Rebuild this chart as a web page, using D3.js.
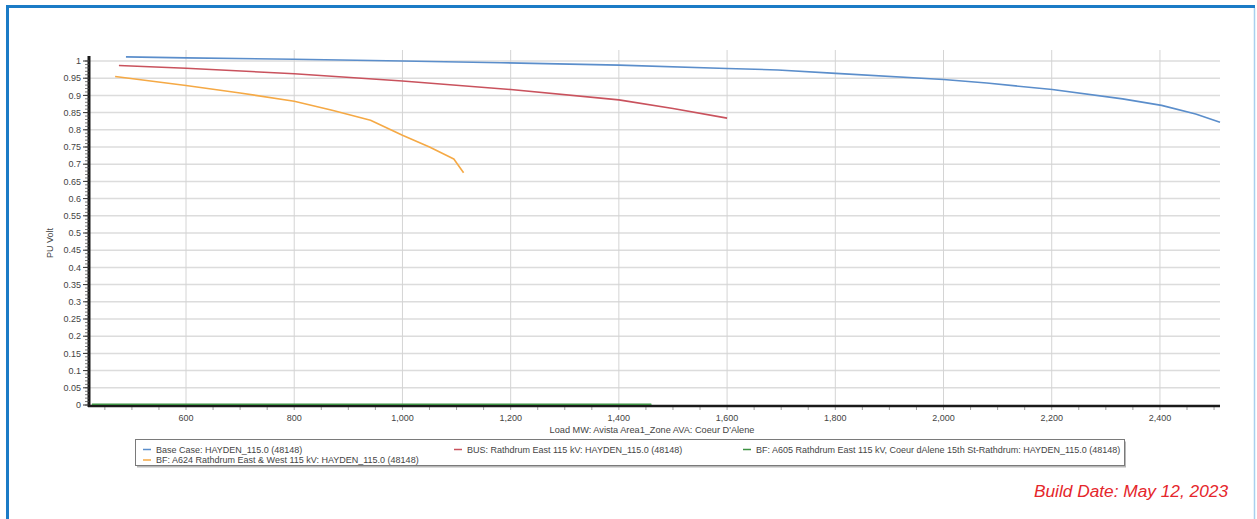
<!DOCTYPE html>
<html>
<head>
<meta charset="utf-8">
<script src="https://cdn.jsdelivr.net/npm/d3@7"></script>
<style>
  html, body { margin: 0; padding: 0; background: #fff; }
  svg { display: block; font-family: "Liberation Sans", Arial, sans-serif; }
</style>
</head>
<body>
<svg id="chart" width="1257" height="519"></svg>
<script>
// Load (MW) vs bus voltage (PU) for HAYDEN_115.0 (48148)
const baseLoad = [489, 600, 800, 1000, 1182, 1400, 1600, 1694, 1801, 2000, 2080, 2201, 2331, 2403, 2466, 2511];
const baseVolt = [1.012, 1.009, 1.005, 1.0, 0.995, 0.988, 0.978, 0.974, 0.964, 0.946, 0.936, 0.917, 0.890, 0.871, 0.846, 0.822];

const busLoad = [476, 600, 800, 1000, 1200, 1400, 1500, 1600];
const busVolt = [0.987, 0.979, 0.963, 0.942, 0.917, 0.887, 0.862, 0.834];

const a624Load = [469, 600, 700, 800, 870, 941, 1000, 1050, 1095, 1113];
const a624Volt = [0.955, 0.929, 0.907, 0.883, 0.857, 0.828, 0.784, 0.750, 0.715, 0.675];

const a605Load = [426, 1460];
const a605Volt = [0, 0];

const xTicks = [600, 800, 1000, 1200, 1400, 1600, 1800, 2000, 2200, 2400];
const yTicks = d3.range(0, 21).map(i => +(i * 0.05).toFixed(2));

const seriesNames = [
  "Base Case: HAYDEN_115.0 (48148)",
  "BUS: Rathdrum East 115 kV: HAYDEN_115.0 (48148)",
  "BF: A605 Rathdrum East 115 kV, Coeur dAlene 15th St-Rathdrum: HAYDEN_115.0 (48148)",
  "BF: A624 Rathdrum East & West 115 kV: HAYDEN_115.0 (48148)"
];
const seriesColors = ["#5b8ecb", "#c9525d", "#3e9243", "#f5a945"];

const series = [
  { load: baseLoad, volt: baseVolt, color: seriesColors[0] },
  { load: busLoad, volt: busVolt, color: seriesColors[1] },
  { load: a624Load, volt: a624Volt, color: seriesColors[3] },
  { load: a605Load, volt: a605Volt, color: seriesColors[2] }
];

const svg = d3.select("#chart");

// frame
svg.append("line").attr("x1", 6).attr("x2", 1255).attr("y1", 6.5).attr("y2", 6.5)
  .attr("stroke", "#1b7bc6").attr("stroke-width", 3);
svg.append("line").attr("x1", 7.5).attr("x2", 7.5).attr("y1", 5).attr("y2", 519)
  .attr("stroke", "#1b7bc6").attr("stroke-width", 3);
svg.append("line").attr("x1", 1254.5).attr("x2", 1254.5).attr("y1", 8).attr("y2", 519)
  .attr("stroke", "#a8d0ee").attr("stroke-width", 1.5);

const x = d3.scaleLinear().domain([420.7, 2511]).range([89, 1220]);
const y = d3.scaleLinear().domain([0, 1]).range([405, 61]);

// grid
const grid = svg.append("g");
grid.selectAll("line.h").data(yTicks.filter(d => d > 0)).join("line")
  .attr("x1", x.range()[0]).attr("x2", x.range()[1])
  .attr("y1", d => y(d)).attr("y2", d => y(d))
  .attr("stroke", "#dcdcdc").attr("stroke-width", 1.5);
grid.selectAll("line.v").data(xTicks).join("line")
  .attr("x1", d => x(d)).attr("x2", d => x(d))
  .attr("y1", 50).attr("y2", y(0))
  .attr("stroke", "#d4d4d4").attr("stroke-width", 1);

// series
const line = d3.line().x(d => x(d[0])).y(d => y(d[1]));
svg.append("g").selectAll("path").data(series).join("path")
  .attr("d", s => line(s.load.map((v, i) => [v, s.volt[i]])))
  .attr("fill", "none")
  .attr("stroke", s => s.color)
  .attr("stroke-width", 1.6)
  .attr("stroke-linejoin", "round");

// y axis
const yAxis = svg.append("g").attr("transform", `translate(${x.range()[0]},0)`);
yAxis.append("line").attr("x1", 0).attr("x2", 0).attr("y1", 56).attr("y2", y(0) + 2)
  .attr("stroke", "#1a1a1a").attr("stroke-width", 3);
yAxis.selectAll("line.minor").data(d3.range(0, 101).map(i => i / 100)).join("line")
  .attr("x1", -4).attr("x2", 0).attr("y1", d => y(d)).attr("y2", d => y(d))
  .attr("stroke", "#555").attr("stroke-width", 0.8);
yAxis.selectAll("line.major").data(yTicks).join("line")
  .attr("x1", -6).attr("x2", 0).attr("y1", d => y(d)).attr("y2", d => y(d))
  .attr("stroke", "#333").attr("stroke-width", 1);
yAxis.selectAll("text").data(yTicks).join("text")
  .attr("x", -8).attr("y", d => y(d)).attr("dy", "0.35em")
  .attr("text-anchor", "end").attr("font-size", 9).attr("fill", "#444")
  .text(d => d3.format("")(d));

// x axis
const xAxis = svg.append("g").attr("transform", `translate(0,${y(0)})`);
xAxis.selectAll("line.minor").data(d3.range(450, 2511, 50)).join("line")
  .attr("x1", d => x(d)).attr("x2", d => x(d)).attr("y1", 0).attr("y2", 5)
  .attr("stroke", "#888").attr("stroke-width", 0.8);
xAxis.append("line").attr("x1", x.range()[0] - 1).attr("x2", x.range()[1]).attr("y1", 1).attr("y2", 1)
  .attr("stroke", "#1a1a1a").attr("stroke-width", 2.5);
xAxis.selectAll("text").data(xTicks).join("text")
  .attr("x", d => x(d)).attr("y", 16)
  .attr("text-anchor", "middle").attr("font-size", 9).attr("fill", "#444")
  .text(d => d3.format(",")(d));

// green contingency series redrawn over the axis
svg.append("path")
  .attr("d", line(a605Load.map((v, i) => [v, a605Volt[i]])))
  .attr("transform", "translate(0,-0.8)")
  .attr("fill", "none").attr("stroke", seriesColors[2]).attr("stroke-width", 1.4);

// axis titles
svg.append("text").attr("x", 652).attr("y", 433).attr("text-anchor", "middle")
  .attr("font-size", 9.2).attr("fill", "#444")
  .text("Load MW: Avista Area1_Zone AVA: Coeur D'Alene");
svg.append("text").attr("transform", "translate(53,243) rotate(-90)")
  .attr("text-anchor", "middle").attr("font-size", 9).attr("fill", "#444")
  .text("PU Volt");

// legend
const legend = svg.append("g");
legend.append("rect").attr("x", 137).attr("y", 441.5).attr("width", 989).attr("height", 26)
  .attr("fill", "#888").attr("opacity", 0.6);
legend.append("rect").attr("x", 135.5).attr("y", 439.5).attr("width", 989).attr("height", 26)
  .attr("fill", "#fff").attr("stroke", "#7a7a7a").attr("stroke-width", 1);
const legendItems = [
  { name: seriesNames[0], color: seriesColors[0], lx: 143, ly: 449.5 },
  { name: seriesNames[1], color: seriesColors[1], lx: 454, ly: 449.5 },
  { name: seriesNames[2], color: seriesColors[2], lx: 743, ly: 449.5 },
  { name: seriesNames[3], color: seriesColors[3], lx: 143, ly: 460 }
];
const li = legend.selectAll("g.item").data(legendItems).join("g")
  .attr("transform", d => `translate(${d.lx},${d.ly})`);
li.append("line").attr("x1", 0).attr("x2", 8).attr("y1", 0).attr("y2", 0)
  .attr("stroke", d => d.color).attr("stroke-width", 1.5);
li.append("text").attr("x", 13).attr("y", 0).attr("dy", "0.35em")
  .attr("font-size", 9).attr("fill", "#444").text(d => d.name);

// build date stamp
svg.append("text").attr("x", 1228).attr("y", 497).attr("text-anchor", "end")
  .attr("font-size", 17.3).attr("font-style", "italic").attr("fill", "#e5262b")
  .text("Build Date: May 12, 2023");
</script>
</body>
</html>
